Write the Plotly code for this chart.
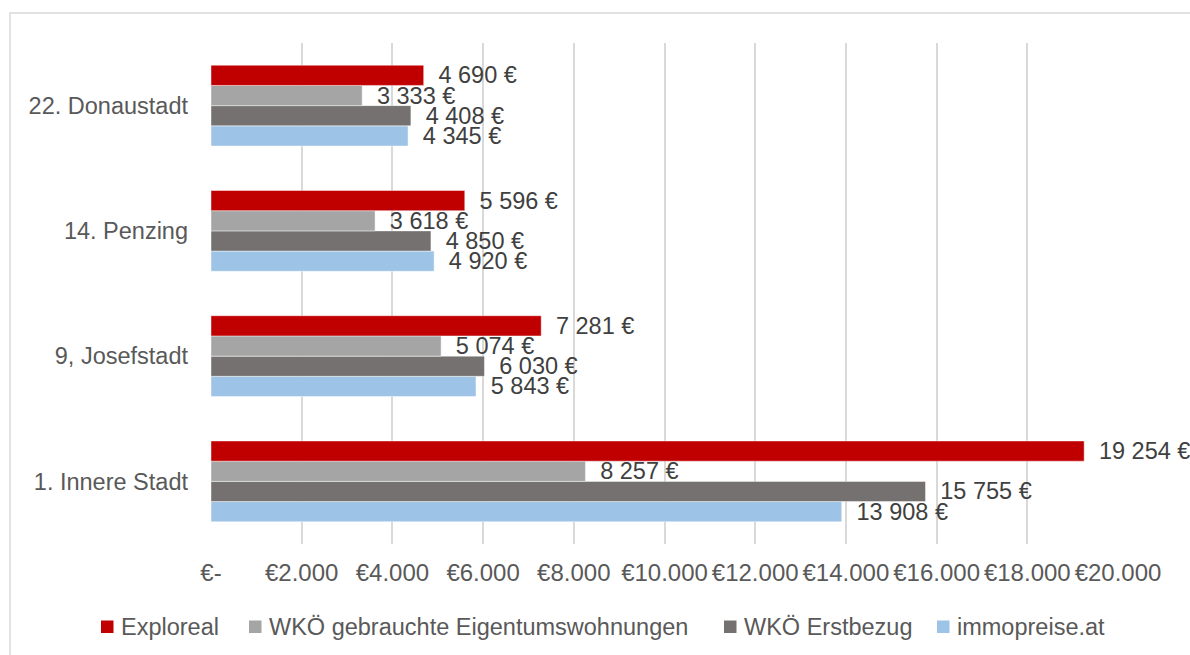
import plotly.graph_objects as go

categories = ["1. Innere Stadt", "9, Josefstadt", "14. Penzing", "22. Donaustadt"]
series_names = ["Exploreal", "WKÖ gebrauchte Eigentumswohnungen", "WKÖ Erstbezug", "immopreise.at"]
exploreal = [19254, 7281, 5596, 4690]
wko_gebraucht = [8257, 5074, 3618, 3333]
wko_erstbezug = [15755, 6030, 4850, 4408]
immopreise = [13908, 5843, 4920, 4345]
colors = ["#C00000", "#A5A5A5", "#767171", "#9DC3E6"]
tick_vals = [0, 2000, 4000, 6000, 8000, 10000, 12000, 14000, 16000, 18000, 20000]
tick_text = ["€-", "€2.000", "€4.000", "€6.000", "€8.000", "€10.000", "€12.000",
             "€14.000", "€16.000", "€18.000", "€20.000"]

FONT = "Liberation Sans, Arial, sans-serif"
FS = 23.5


def fmt(v):
    return "\u2002" + f"{v:,}".replace(",", " ") + " €"


series = [exploreal, wko_gebraucht, wko_erstbezug, immopreise]

fig = go.Figure()
# add in reverse so the first series is on top within each group
for name, vals, col in reversed(list(zip(series_names, series, colors))):
    fig.add_trace(go.Bar(
        y=categories, x=vals, name=name, orientation="h", showlegend=False,
        marker=dict(color=col, line=dict(color="rgba(255,255,255,0.6)", width=0.75)),
        text=[fmt(v) for v in vals], textposition="outside",
        textfont=dict(family=FONT, size=FS, color="#404040"),
        constraintext="none", cliponaxis=False,
    ))

W, H = 1190, 655
ml, mr, mt, mb = 211, 72, 43, 111
pw, ph = W - ml - mr, H - mt - mb


def px_x(p):
    return (p - ml) / pw


def px_y(p):
    return (H - mb - p) / ph


# custom legend (single row like the reference)
legend_square_px = [101, 249, 724, 937]
shapes = [dict(type="rect", xref="paper", yref="paper",
               x0=px_x(10), x1=px_x(W + 20), y0=px_y(H + 20), y1=px_y(13),
               line=dict(color="#D9D9D9", width=1.5), layer="below")]
annotations = []
for name, col, sx in zip(series_names, colors, legend_square_px):
    shapes.append(dict(type="rect", xref="paper", yref="paper",
                       x0=px_x(sx), x1=px_x(sx + 12.5), y0=px_y(633), y1=px_y(620.5),
                       fillcolor=col, line=dict(width=0)))
    annotations.append(dict(xref="paper", yref="paper", x=px_x(sx + 17.5), y=px_y(627),
                            xanchor="left", yanchor="middle", text=name, showarrow=False,
                            font=dict(family=FONT, size=FS, color="#595959")))

fig.update_layout(
    width=W, height=H,
    margin=dict(l=ml, r=mr, t=mt, b=mb, autoexpand=False),
    barmode="group", bargap=0.355, bargroupgap=0,
    plot_bgcolor="white", paper_bgcolor="white",
    font=dict(family=FONT, size=FS, color="#595959"),
    showlegend=False,
    xaxis=dict(range=[0, 20000], tickvals=tick_vals, ticktext=tick_text,
               tickfont=dict(size=24),
               showgrid=True, gridcolor="#D9D9D9", gridwidth=1.5, zeroline=False,
               showline=False, ticklabelstandoff=12, fixedrange=True, automargin=False),
    yaxis=dict(showgrid=False, showline=False, zeroline=False,
               ticklabelstandoff=22, fixedrange=True, automargin=False),
    shapes=shapes,
    annotations=annotations,
)
fig.write_html("out.html", config={"displayModeBar": False},
               post_script="document.body.style.margin='0';document.body.style.overflow='hidden';")
